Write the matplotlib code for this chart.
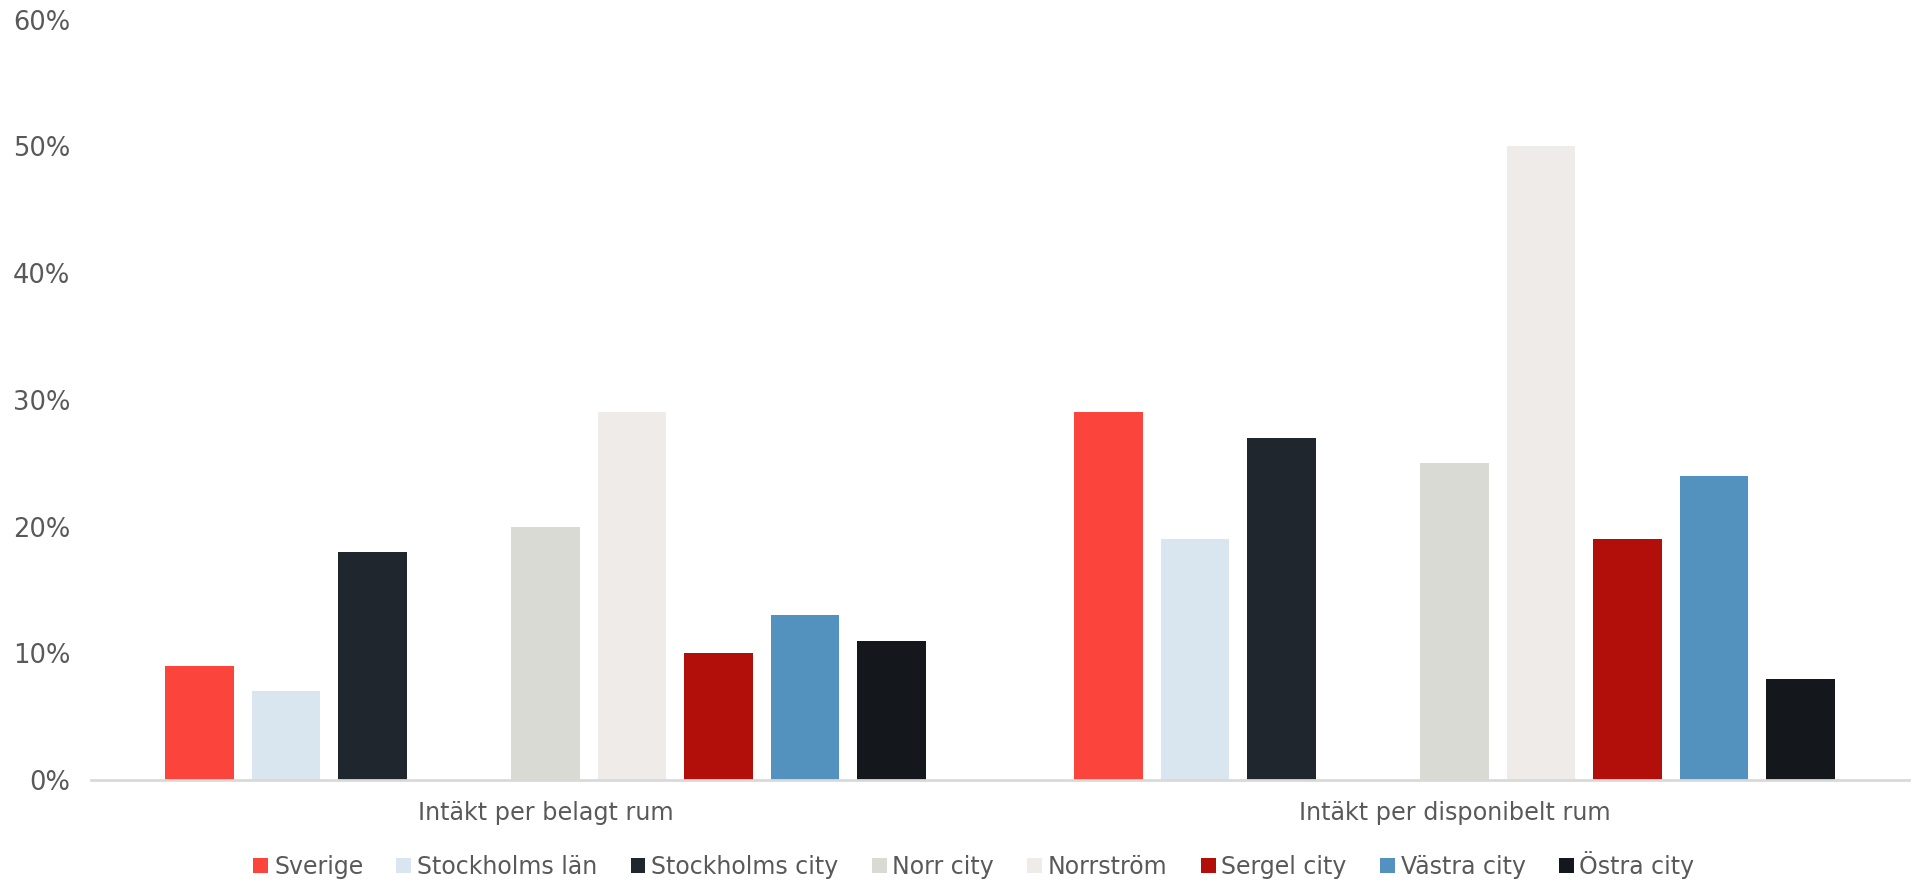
import matplotlib
matplotlib.use("Agg")
import matplotlib.pyplot as plt
from matplotlib.patches import Patch
from matplotlib.ticker import PercentFormatter, MultipleLocator
import numpy as np

plt.rcParams['font.family'] = ['DejaVu Sans']

categories = ["Intäkt per belagt rum", "Intäkt per disponibelt rum"]
series = ["Sverige", "Stockholms län", "Stockholms city", "Norr city",
          "Norrström", "Sergel city", "Västra city", "Östra city"]
values = {
    "Sverige":         [9, 29],
    "Stockholms län":  [7, 19],
    "Stockholms city": [18, 27],
    "Norr city":       [20, 25],
    "Norrström":       [29, 50],
    "Sergel city":     [10, 19],
    "Västra city":     [13, 24],
    "Östra city":      [11, 8],
}
colors = ["#FA443C", "#D9E6F0", "#1F262E", "#DADAD5",
          "#EFEBE8", "#B30F0A", "#5392BE", "#14171B"]

# nine slots per category; slot 3 is left empty
slot_index = [0, 1, 2, 4, 5, 6, 7, 8]
n_slots = 9
slot_w = 0.0952
bar_w = 0.0754

W, H = 1918, 880
fig = plt.figure(figsize=(W / 100, H / 100), dpi=100)
ax = fig.add_axes([91 / W, 100 / H, (1909 - 91) / W, (780 - 19.6) / H])

x = np.arange(len(categories))
text_color = "#595959"
for name, col, s in zip(series, colors, slot_index):
    offs = (s - (n_slots - 1) / 2) * slot_w
    ax.bar(x + offs, np.array(values[name]) / 100, width=bar_w, color=col,
           label=name, zorder=2)

ax.set_xlim(-0.5, 1.5)
ax.set_ylim(0, 0.6)
ax.yaxis.set_major_locator(MultipleLocator(0.1))
ax.yaxis.set_major_formatter(PercentFormatter(1.0, decimals=0))
ax.set_xticks(x)
ax.set_xticklabels(categories)
ax.tick_params(axis='both', length=0, colors=text_color)
ax.tick_params(axis='y', pad=15, labelsize=18.5)
ax.tick_params(axis='x', pad=15, labelsize=17.2)
for sp in ("top", "right", "left"):
    ax.spines[sp].set_visible(False)
ax.spines["bottom"].set_color("#D9D9D9")
ax.spines["bottom"].set_linewidth(2)
ax.spines["bottom"].set_zorder(3)

handles = [Patch(facecolor=c, label=n) for n, c in zip(series, colors)]
leg = fig.legend(handles=handles, loc="center", ncol=8,
                 bbox_to_anchor=(974 / W, 1 - 865 / H), frameon=False,
                 fontsize=17, handlelength=0.63, handleheight=0.63,
                 handletextpad=0.25, columnspacing=1.4, labelcolor=text_color)

fig.savefig("out.png", dpi=100)
